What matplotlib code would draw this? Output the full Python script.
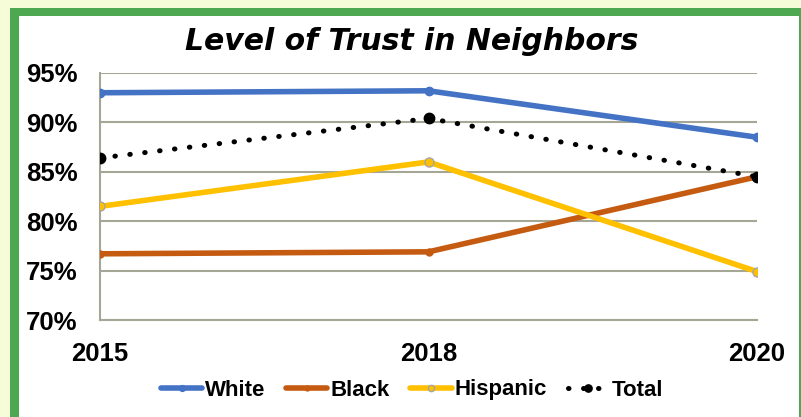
import matplotlib
matplotlib.use("Agg")
import matplotlib.pyplot as plt
from matplotlib.patches import Rectangle

years = ["2015", "2018", "2020"]
white = [93.0, 93.2, 88.5]
black = [76.7, 76.9, 84.5]
hispanic = [81.5, 86.0, 74.9]
total = [86.4, 90.4, 84.5]
yticks = [70, 75, 80, 85, 90, 95]

W, H = 801, 417
fig = plt.figure(figsize=(W / 100, H / 100), dpi=100)
fig.patch.set_facecolor("#F6FBD8")

def px(x0, y0, x1, y1):
    return (x0 / W, 1 - y1 / H, (x1 - x0) / W, (y1 - y0) / H)

# green frame and white interior
r = px(10, 8, 801, 417)
fig.patches.append(Rectangle((r[0], r[1]), r[2], r[3], transform=fig.transFigure,
                             facecolor="#4EA852", edgecolor="none", zorder=-2))
r = px(19, 16, 799, 417)
fig.patches.append(Rectangle((r[0], r[1]), r[2], r[3], transform=fig.transFigure,
                             facecolor="white", edgecolor="none", zorder=-1))

ax = fig.add_axes(px(100, 73, 757, 320))
ax.set_zorder(2)
ax.set_facecolor("white")
x = list(range(len(years)))

ax.plot(x, white, color="#4472C4", lw=4, marker="o", ms=6, solid_capstyle="round",
        label="White", zorder=4)
ax.plot(x, black, color="#C55A11", lw=4, marker="o", ms=5, solid_capstyle="round",
        label="Black", zorder=4)
ax.plot(x, hispanic, color="#FFC000", lw=4, marker="o", ms=6.5, mec="#A5A5A5", mew=1,
        solid_capstyle="round", label="Hispanic", zorder=4)
ax.plot(x, total, color="black", lw=3.6, ls=(0, (0.1, 2.9)), dash_capstyle="round",
        marker="o", ms=7.5, label="Total", zorder=5)

ax.set_xlim(0, 2)
ax.set_ylim(70, 95)
ax.set_yticks(yticks)
ax.set_yticklabels([f"{v}%" for v in yticks])
ax.set_xticks(x)
ax.set_xticklabels(years)
ax.yaxis.grid(True, color="#A6A697", lw=1.5)
ax.set_axisbelow(True)
for s in ["top", "right"]:
    ax.spines[s].set_visible(False)
for s in ["left", "bottom"]:
    ax.spines[s].set_color("#A6A697")
    ax.spines[s].set_linewidth(1.5)
ax.tick_params(length=0)
ax.tick_params(axis="y", pad=16)
ax.tick_params(axis="x", pad=16)
for lab in ax.get_xticklabels() + ax.get_yticklabels():
    lab.set_fontfamily("Liberation Sans")
    lab.set_fontweight("bold")
    lab.set_fontsize(18.5)

fig.text(412 / W, 1 - 42 / H, "Level of Trust in Neighbors", ha="center", va="center",
         fontsize=21.5, fontweight="bold", fontstyle="italic", family="DejaVu Sans")

handles, labels = ax.get_legend_handles_labels()
leg = fig.legend(handles, labels, loc="center", bbox_to_anchor=(412 / W, 1 - 390 / H),
                 ncol=4, frameon=False, handlelength=1.85, handletextpad=0.12, columnspacing=0.95,
                 markerscale=0.7,
                 prop={"family": "Liberation Sans", "weight": "bold", "size": 16})

fig.savefig("out.png", dpi=100, facecolor=fig.get_facecolor())
